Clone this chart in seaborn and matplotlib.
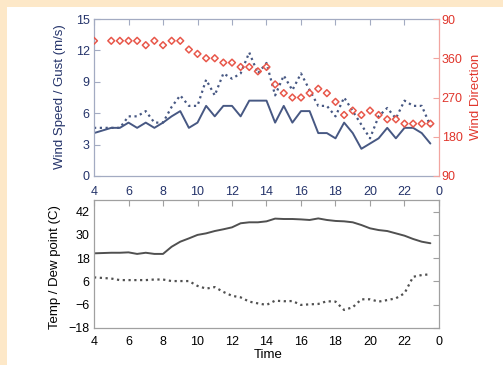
import matplotlib
matplotlib.use("Agg")
import matplotlib.pyplot as plt
from matplotlib.patches import Rectangle
import pandas as pd
import seaborn as sns

sns.set_theme(style="white")
plt.rcParams['font.family'] = ['Liberation Sans', 'DejaVu Sans']

# Observation times (hour of day, 24 == midnight)
hours = [4.0, 5.0, 5.5, 6.0, 6.5, 7.0, 7.5, 8.0, 8.5, 9.0, 9.5, 10.0, 10.5,
         11.0, 11.5, 12.0, 12.5, 13.0, 13.5, 14.0, 14.5, 15.0, 15.5, 16.0,
         16.5, 17.0, 17.5, 18.0, 18.5, 19.0, 19.5, 20.0, 20.5, 21.0, 21.5,
         22.0, 22.5, 23.0, 23.5]

# Wind speed and gust (m/s)
wind_speed = [4.1, 4.6, 4.6, 5.1, 4.6, 5.1, 4.6, 5.1, 5.7, 6.2, 4.6, 5.1, 6.7,
              5.7, 6.7, 6.7, 5.7, 7.2, 7.2, 7.2, 5.1, 6.7, 5.1, 6.2, 6.2, 4.1,
              4.1, 3.6, 5.1, 4.1, 2.6, 3.1, 3.6, 4.6, 3.6, 4.6, 4.6, 4.1, 3.1]
wind_gust = [4.6, 4.6, 4.6, 5.7, 5.7, 6.2, 5.1, 5.1, 6.6, 7.7, 6.7, 6.7, 9.2,
             7.7, 9.8, 9.3, 9.8, 11.8, 9.8, 10.8, 7.7, 9.6, 8.2, 9.8, 8.2, 6.7,
             6.7, 5.7, 7.5, 6.2, 4.9, 3.6, 5.7, 6.5, 5.5, 7.2, 6.7, 6.7, 4.8]

# Wind direction (compass degrees)
wind_dir = [40, 40, 40, 40, 40, 30, 40, 30, 40, 40, 20, 10, 360, 360, 350, 350,
            340, 340, 330, 340, 300, 280, 270, 270, 280, 290, 280, 260, 230,
            240, 230, 240, 230, 220, 220, 210, 210, 210, 210]

# Temperature and dew point
temperature = [20.5, 20.8, 20.8, 21.0, 20.2, 20.8, 20.2, 20.2, 23.9, 26.5, 28.2,
               30.0, 30.8, 32.0, 32.9, 33.9, 36.0, 36.5, 36.5, 37.0, 38.4, 38.2,
               38.2, 38.0, 37.7, 38.5, 37.7, 37.2, 37.0, 36.5, 35.1, 33.4, 32.5,
               32.0, 30.8, 29.6, 27.9, 26.5, 25.7]
dew_point = [8.1, 7.5, 6.7, 6.7, 6.7, 6.7, 7.0, 7.0, 6.2, 6.2, 6.2, 3.7, 2.3,
             3.1, 0.6, -1.4, -2.2, -4.4, -5.3, -6.1, -3.9, -4.2, -4.1, -6.1,
             -5.8, -5.6, -4.2, -4.4, -8.7, -7.3, -3.2, -3.2, -4.4, -3.6, -2.7,
             -0.1, 8.4, 9.3, 9.7]

x_ticks = [4, 6, 8, 10, 12, 14, 16, 18, 20, 22, 24]
x_tick_labels = ['4', '6', '8', '10', '12', '14', '16', '18', '20', '22', '0']
speed_ticks = [0, 3, 6, 9, 12, 15]
dir_ticks = [90, 180, 270, 360, 450]
dir_tick_labels = ['90', '180', '270', '360', '90']
temp_ticks = [-18, -6, 6, 18, 30, 42]

# Directions below 90 are drawn one turn up so the series stays continuous
dir_plot = [d + 360 if d < 90 else d for d in wind_dir]

df = pd.DataFrame({'hour': hours, 'speed': wind_speed, 'gust': wind_gust,
                   'direction': dir_plot, 'temp': temperature, 'dew': dew_point})

NAVY = '#24336a'
LINE = '#475883'
RED = '#e0352b'
DIAMOND = '#e8574a'
BLUE_SPINE = '#a3abc2'
RED_SPINE = '#f2a5a0'
GRAY_SPINE = '#a0a0a0'
PEACH = '#fde8c8'
FS = 9

W, H = 503, 365
fig = plt.figure(figsize=(W / 100, H / 100), dpi=100)
fig.patch.set_facecolor(PEACH)
fig.patches.append(Rectangle((7 / W, 0), 1 - 7 / W, 1 - 7 / H,
                             transform=fig.transFigure, facecolor='white',
                             edgecolor='none', zorder=-1))


def px_axes(left, top, right, bottom):
    return fig.add_axes([left / W, 1 - bottom / H, (right - left) / W, (bottom - top) / H])


# ---------- wind panel ----------
ax1 = px_axes(94, 19, 439, 176)
ax1.set_facecolor('none')
sns.lineplot(data=df, x='hour', y='speed', ax=ax1, color=LINE, linewidth=1.4)
sns.lineplot(data=df, x='hour', y='gust', ax=ax1, color=LINE, linewidth=1.6,
             linestyle=(0, (1, 1.6)))
ax1.set_xlim(4, 24)
ax1.set_ylim(0, 15)
ax1.set_xticks(x_ticks)
ax1.set_xticklabels(x_tick_labels)
ax1.set_yticks(speed_ticks)
ax1.set_xlabel('')
ax1.set_ylabel('')
ax1.tick_params(axis='both', direction='in', length=4, width=0.8,
                color=BLUE_SPINE, labelcolor=NAVY, labelsize=FS)
ax1.tick_params(axis='x', top=True, pad=7)
ax1.tick_params(axis='y', pad=3)
for s in ['left', 'bottom', 'top']:
    ax1.spines[s].set_color(BLUE_SPINE)
    ax1.spines[s].set_linewidth(0.9)
ax1.spines['right'].set_visible(False)

axr = ax1.twinx()
sns.scatterplot(data=df, x='hour', y='direction', ax=axr, marker='D', s=12,
                facecolor='none', edgecolor=DIAMOND, linewidth=1.1)
axr.set_ylim(90, 450)
axr.set_yticks(dir_ticks)
axr.set_yticklabels(dir_tick_labels)
axr.set_ylabel('')
axr.set_xlabel('')
axr.tick_params(axis='y', direction='in', length=4, width=0.8,
                color=RED_SPINE, labelcolor=RED, labelsize=FS, pad=2)
for s in ['left', 'bottom', 'top']:
    axr.spines[s].set_visible(False)
axr.spines['right'].set_color(RED_SPINE)
axr.spines['right'].set_linewidth(0.9)

fig.text(60 / W, 1 - 97 / H, 'Wind Speed / Gust (m/s)', rotation=90,
         ha='center', va='center', color=NAVY, fontsize=FS + 0.5)
fig.text(476 / W, 1 - 97 / H, 'Wind Direction', rotation=90,
         ha='center', va='center', color=RED, fontsize=FS + 0.5)

# ---------- temperature panel ----------
ax2 = px_axes(94, 200, 439, 328)
sns.lineplot(data=df, x='hour', y='temp', ax=ax2, color='#505050', linewidth=1.4)
sns.lineplot(data=df, x='hour', y='dew', ax=ax2, color='#505050', linewidth=1.6,
             linestyle=(0, (1, 1.6)))
ax2.set_xlim(4, 24)
ax2.set_ylim(-18, 48)
ax2.set_xticks(x_ticks)
ax2.set_xticklabels(x_tick_labels)
ax2.set_yticks(temp_ticks)
ax2.set_xlabel('')
ax2.set_ylabel('')
ax2.tick_params(axis='both', direction='in', length=4, width=0.8,
                color=GRAY_SPINE, labelcolor='black', labelsize=FS,
                top=True, right=True)
ax2.tick_params(axis='x', pad=6)
ax2.tick_params(axis='y', pad=3)
for s in ax2.spines.values():
    s.set_color(GRAY_SPINE)
    s.set_linewidth(0.9)

fig.text(55 / W, 1 - 267 / H, 'Temp / Dew point (C)', rotation=90,
         ha='center', va='center', color='black', fontsize=FS + 0.5)
fig.text(268 / W, 1 - 355 / H, 'Time', ha='center', va='center',
         color='black', fontsize=FS + 0.5)

fig.savefig('out.png', dpi=100, facecolor=fig.get_facecolor())
